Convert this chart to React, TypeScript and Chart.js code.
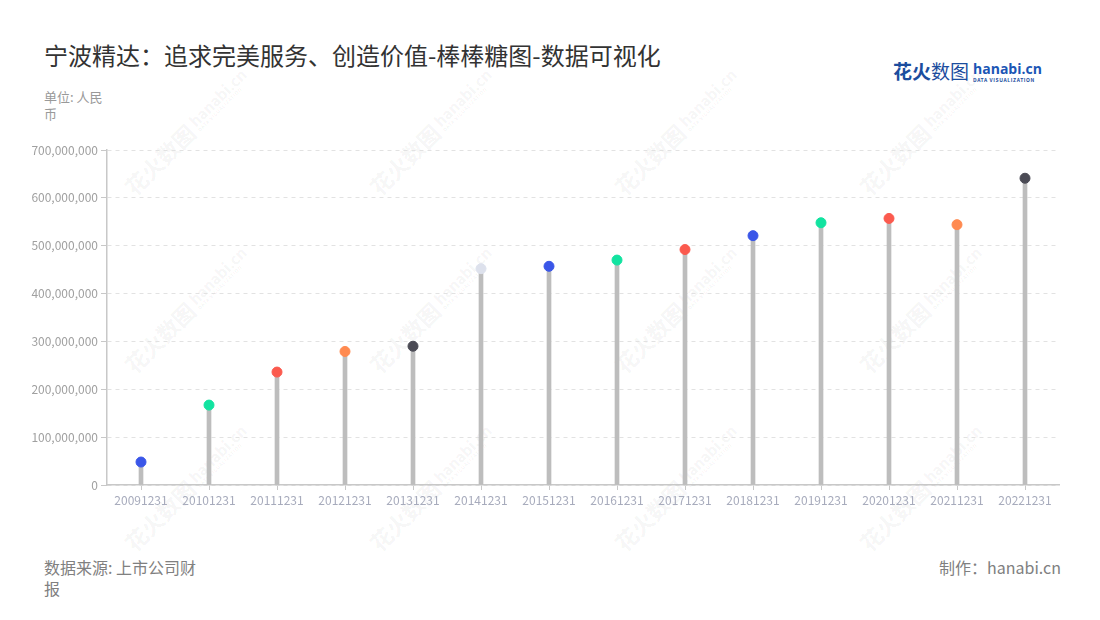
import React, { useEffect, useRef } from 'react';
import { Chart, registerables } from 'chart.js';

Chart.register(...registerables);

const categories = [
  '20091231', '20101231', '20111231', '20121231', '20131231', '20141231', '20151231',
  '20161231', '20171231', '20181231', '20191231', '20201231', '20211231', '20221231',
];
const values = [
  48000000, 167000000, 236000000, 279000000, 290000000, 452000000, 457000000,
  470000000, 492000000, 521000000, 548000000, 557000000, 544000000, 641000000,
];
const pointColors = [
  '#3a56e8', '#12e3a0', '#fb5a4e', '#ff8a50', '#4b4b55', '#dde1ec', '#3a56e8',
  '#12e3a0', '#fb5a4e', '#3a56e8', '#12e3a0', '#fb5a4e', '#ff8a50', '#4b4b55',
];
const yMin = 0;
const yMax = 700000000;
const yStep = 100000000;

const FONT = '"Noto Sans CJK SC", "Noto Sans", sans-serif';

function Watermarks() {
  const tiles: React.ReactNode[] = [];
  for (let r = 0; r < 3; r++) {
    for (let c = 0; c < 4; c++) {
      const x = 128 + c * 245;
      const y = 190 + r * 178;
      tiles.push(
        <div
          key={r + '-' + c}
          style={{
            position: 'absolute',
            left: x,
            top: y - 14,
            height: 28,
            whiteSpace: 'nowrap',
            transformOrigin: '0 50%',
            transform: 'rotate(-45deg)',
            color: 'rgba(0,0,0,0.055)',
            fontFamily: FONT,
            display: 'flex',
            alignItems: 'center',
            pointerEvents: 'none',
          }}
        >
          <span style={{ fontSize: 22, fontWeight: 700, letterSpacing: 0 }}>花火数图</span>
          <span style={{ display: 'inline-flex', flexDirection: 'column', marginLeft: 4, lineHeight: 1 }}>
            <span style={{ fontSize: 15, fontWeight: 700 }}>hanabi.cn</span>
            <span style={{ fontSize: 5, fontWeight: 700, letterSpacing: 0.5 }}>DATA VISUALIZATION</span>
          </span>
        </div>
      );
    }
  }
  return <>{tiles}</>;
}

export default function App() {
  const canvasRef = useRef<HTMLCanvasElement | null>(null);

  useEffect(() => {
    document.body.style.margin = '0';
    const canvas = canvasRef.current;
    if (!canvas) return;
    const chart = new Chart(canvas, {
      type: 'bar',
      data: {
        labels: categories,
        datasets: [
          {
            type: 'line',
            data: values,
            showLine: false,
            pointRadius: 5,
            pointHoverRadius: 5,
            pointBackgroundColor: pointColors,
            pointBorderColor: pointColors,
            pointBorderWidth: 1,
            order: 0,
          } as any,
          {
            type: 'bar',
            data: values,
            backgroundColor: '#bdbdbd',
            barThickness: 4,
            order: 1,
          } as any,
        ],
      },
      options: {
        animation: false,
        responsive: false,
        maintainAspectRatio: false,
        layout: { padding: { left: 0, right: 11, top: 20, bottom: 0 } },
        plugins: {
          legend: { display: false },
          tooltip: { enabled: false },
          title: { display: false },
        },
        scales: {
          x: {
            type: 'category',
            offset: true,
            grid: {
              display: true,
              drawOnChartArea: false,
              drawTicks: true,
              tickLength: 5,
              offset: false,
              color: '#c8c8c8',
            },
            border: { display: true, color: '#c8c8c8', width: 1.5 },
            ticks: {
              color: '#a7abbc',
              font: { family: FONT, size: 12 },
              padding: 3,
              maxRotation: 0,
              autoSkip: false,
            },
            afterFit: (scale: any) => {
              scale.height = 45;
            },
          },
          y: {
            min: yMin,
            max: yMax,
            grid: {
              color: '#e2e2e2',
              tickLength: 6,
              tickColor: '#c8c8c8',
              tickBorderDash: [],
            },
            border: { display: true, color: '#c8c8c8', width: 1.5, dash: [4, 4] },
            ticks: {
              stepSize: yStep,
              color: '#a0a0a0',
              font: { family: FONT, size: 12 },
              padding: 3,
              callback: (v: any) => Number(v).toLocaleString('en-US'),
            },
            afterFit: (scale: any) => {
              scale.width = 77;
            },
          },
        },
      } as any,
    });
    return () => chart.destroy();
  }, []);

  return (
    <div style={{ position: 'relative', width: 1100, height: 620, background: '#fff', overflow: 'hidden', fontFamily: FONT }}>
      <Watermarks />
      <div style={{ position: 'absolute', left: 44, top: 43, fontSize: 24, lineHeight: '24px', color: '#333', whiteSpace: 'nowrap' }}>
        宁波精达：追求完美服务、创造价值-棒棒糖图-数据可视化
      </div>
      <div style={{ position: 'absolute', left: 44, top: 88, fontSize: 13, lineHeight: '17px', color: '#999' }}>
        <div>单位: 人民</div>
        <div>币</div>
      </div>
      <div style={{ position: 'absolute', left: 893, top: 60, display: 'flex', alignItems: 'flex-end', whiteSpace: 'nowrap' }}>
        <span style={{ fontSize: 19, lineHeight: '22px', fontWeight: 700, color: '#1b4d9e' }}>花火</span>
        <span style={{ fontSize: 19, lineHeight: '22px', fontWeight: 400, color: '#1b4d9e' }}>数图</span>
        <span style={{ display: 'inline-flex', flexDirection: 'column', marginLeft: 4, lineHeight: 1 }}>
          <span style={{ fontSize: 14, fontWeight: 700, color: '#1b56b5', fontFamily: '"Open Sans", sans-serif' }}>hanabi.cn</span>
          <span style={{ fontSize: 5, fontWeight: 700, color: '#1b4d9e', letterSpacing: 0.6, marginTop: 1 }}>DATA VISUALIZATION</span>
        </span>
      </div>
      <canvas
        ref={canvasRef}
        width={1040}
        height={400}
        style={{ position: 'absolute', left: 30, top: 130, width: 1040, height: 400 }}
      />
      <div style={{ position: 'absolute', left: 44, top: 557, fontSize: 16, lineHeight: '21px', color: '#808080' }}>
        <div>数据来源: 上市公司财</div>
        <div>报</div>
      </div>
      <div style={{ position: 'absolute', right: 39, top: 557, fontSize: 16, lineHeight: '21px', color: '#808080', whiteSpace: 'nowrap' }}>
        制作：hanabi.cn
      </div>
    </div>
  );
}
